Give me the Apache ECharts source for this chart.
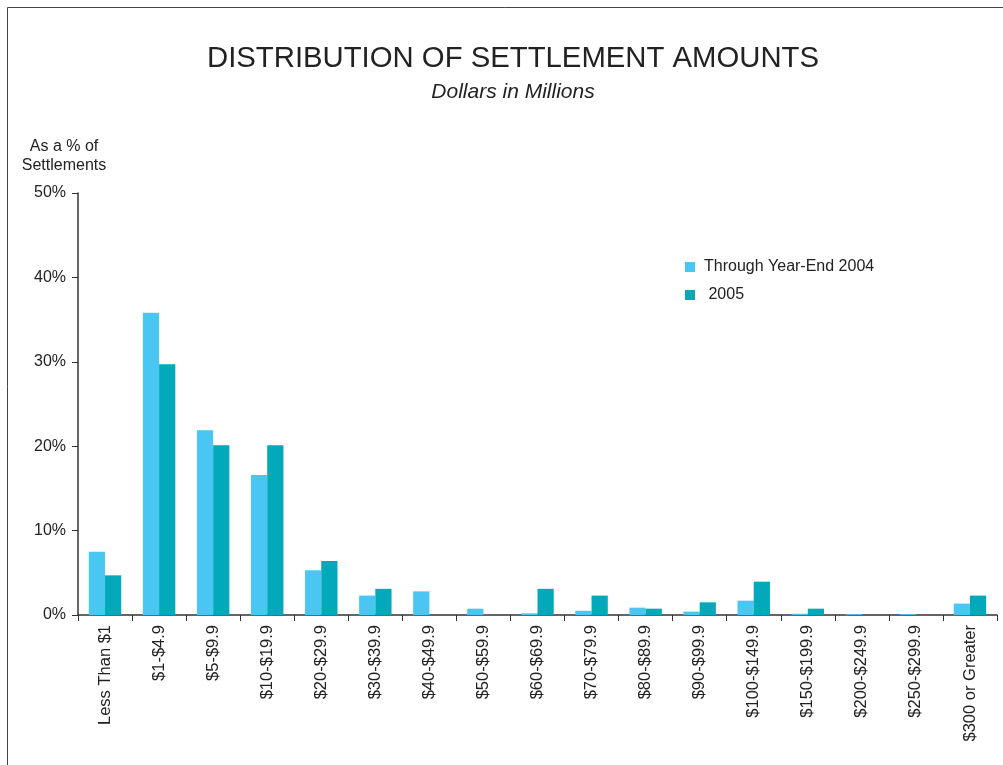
<!DOCTYPE html>
<html>
<head>
<meta charset="utf-8">
<script src="https://cdn.jsdelivr.net/npm/echarts@6/dist/echarts.min.js"></script>
<style>
  html, body { margin: 0; padding: 0; background: #fff; }
  #chart { width: 1003px; height: 765px; }
</style>
</head>
<body>
<div id="chart"></div>
<script>
// settlement size buckets
const categories = ['Less Than $1', '$1-$4.9', '$5-$9.9', '$10-$19.9', '$20-$29.9', '$30-$39.9',
  '$40-$49.9', '$50-$59.9', '$60-$69.9', '$70-$79.9', '$80-$89.9', '$90-$99.9',
  '$100-$149.9', '$150-$199.9', '$200-$249.9', '$250-$299.9', '$300 or Greater'];
// % of settlements
const through2004 = [7.5, 35.8, 21.9, 16.6, 5.3, 2.3, 2.8, 0.75, 0.2, 0.5, 0.87, 0.4, 1.7, 0.15, 0.1, 0.1, 1.35];
const year2005 = [4.7, 29.7, 20.1, 20.1, 6.4, 3.1, 0, 0, 3.1, 2.3, 0.75, 1.5, 3.95, 0.75, 0, 0, 2.3];
const yTicks = [0, 10, 20, 30, 40, 50];

const chart = echarts.init(document.getElementById('chart'));
const font = 'Liberation Sans, Arial, sans-serif';

chart.setOption({
  animation: false,
  textStyle: { fontFamily: font },
  graphic: [{
    type: 'rect',
    shape: { x: 7.5, y: 7.5, width: 1010, height: 800 },
    style: { fill: 'none', stroke: '#444', lineWidth: 1 }
  }],
  title: {
    text: 'DISTRIBUTION OF SETTLEMENT AMOUNTS',
    subtext: 'Dollars in Millions',
    left: 508, top: 39, textAlign: 'center',
    itemGap: 9,
    textStyle: { fontSize: 29.3, fontWeight: 'normal', color: '#222', fontFamily: font },
    subtextStyle: { fontSize: 21, fontStyle: 'italic', color: '#222', fontFamily: font }
  },
  legend: {
    orient: 'vertical',
    left: 680, top: 254,
    itemWidth: 10, itemHeight: 10, itemGap: 12,
    icon: 'rect',
    textStyle: { fontSize: 16, color: '#222', padding: [0, 0, 0, 4] },
    data: ['Through Year-End 2004', '2005'],
    formatter: function (n) { return n === '2005' ? ' 2005' : n; }
  },
  grid: { left: 78, right: 6, top: 193, bottom: 150, containLabel: false },
  xAxis: {
    type: 'category',
    data: categories,
    axisLine: { lineStyle: { color: '#333', width: 1.5 } },
    axisTick: { show: true, length: 6, lineStyle: { color: '#333' } },
    axisLabel: { rotate: 90, fontSize: 16.5, color: '#222', margin: 10, interval: 0 }
  },
  yAxis: {
    type: 'value',
    min: 0, max: 50, interval: 10,
    name: 'As a % of\nSettlements',
    nameLocation: 'end',
    nameGap: 18,
    nameTextStyle: { fontSize: 16, color: '#222', align: 'center', padding: [0, 0, 0, -28], lineHeight: 19 },
    axisLine: { show: true, lineStyle: { color: '#333', width: 1.5 } },
    axisTick: { show: true, length: 6, lineStyle: { color: '#333' } },
    splitLine: { show: false },
    axisLabel: { fontSize: 16, color: '#222', margin: 12, formatter: '{value}%' }
  },
  series: [{
    name: 'Through Year-End 2004',
    type: 'bar',
    data: through2004,
    barGap: '0%',
    barCategoryGap: '40%',
    itemStyle: { color: '#49C7F2' }
  }, {
    name: '2005',
    type: 'bar',
    data: year2005,
    itemStyle: { color: '#02A9BB' }
  }]
});
</script>
</body>
</html>
